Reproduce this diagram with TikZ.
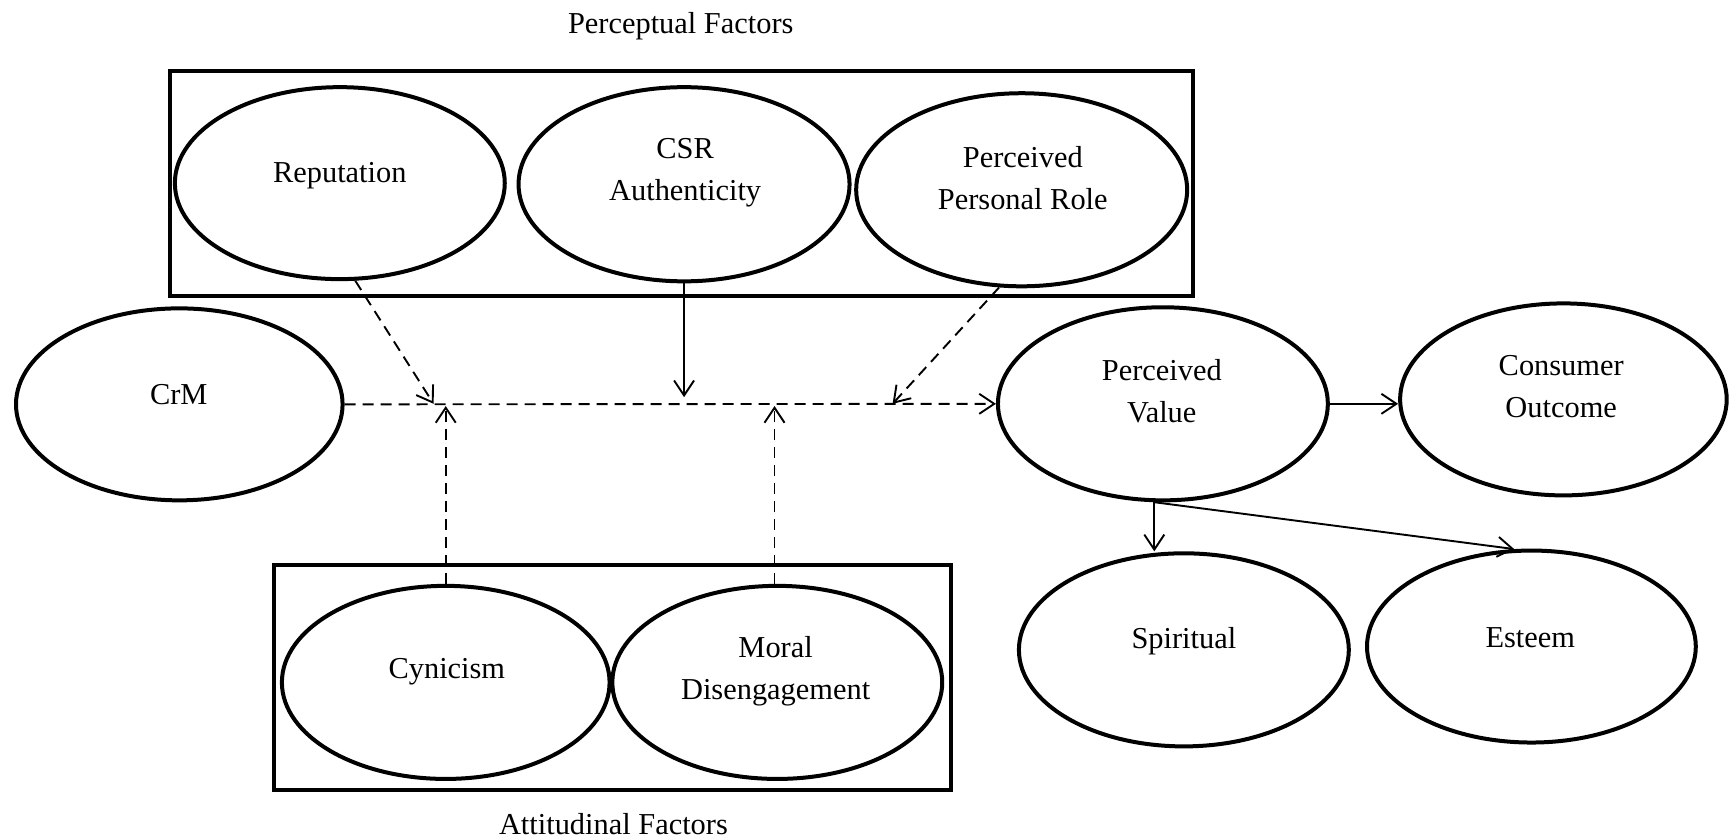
\documentclass[tikz,border=0pt]{standalone}
\usepackage{fontspec}
\setmainfont{Liberation Serif}
\usetikzlibrary{shapes.geometric,arrows.meta}
\begin{document}
\begin{tikzpicture}[x=0.5517pt,y=-0.5517pt,
  oval/.style n args={2}{draw,ellipse,line width=2pt,inner sep=0pt,
    minimum width=#1*0.5517pt,minimum height=#2*0.5517pt},
  txt/.style={font=\fontsize{15.2}{21}\selectfont,align=center,inner sep=0pt},
  frame/.style={draw,line width=1.9pt},
  conn/.style={line width=0.95pt,-{Straight Barb[length=7.5pt,width=10pt]}},
  dsh/.style={conn,dash pattern=on 5.5pt off 3.5pt}]
\useasboundingbox (0,0) rectangle (1568,760);

% frames
\draw[frame] (154,64) rectangle (1081,268);
\draw[frame] (248,512) rectangle (862,716);
\node[txt] (pf) at (617,24) {Perceptual Factors};
\node[txt] (af) at (556,747) {Attitudinal Factors};

% ellipses
\node[oval={299}{174}] (rep) at (308,166) {};
\node[oval={300}{176}] (csr) at (620,167) {};
\node[oval={300}{175}] (ppr) at (926,172) {};
\node[oval={296}{174}] (crm) at (162.5,366.5) {};
\node[oval={299}{175}] (pv) at (1054,366) {};
\node[oval={296}{174}] (co) at (1417,362) {};
\node[oval={299}{175}] (spi) at (1073,589) {};
\node[oval={298}{174}] (est) at (1388,586) {};
\node[oval={297}{175}] (cyn) at (404,618.5) {};
\node[oval={299}{175}] (mor) at (704.5,618.5) {};

% labels
\node[txt] at (308,159) {Reputation};
\node[txt] at (621,156.5) {CSR\\Authenticity};
\node[txt] at (927,161) {Perceived\\Personal Role};
\node[txt] at (162,358) {CrM};
\node[txt] at (1053,355) {Perceived\\Value};
\node[txt] at (1415,350) {Consumer\\Outcome};
\node[txt] at (1073,581) {Spiritual};
\node[txt] at (1387,578) {Esteem};
\node[txt] at (405,609) {Cynicism};
\node[txt] at (703,608) {Moral\\Disengagement};

% junction points on the main path
\coordinate (j1) at (393,366);
\coordinate (j2) at (622,360);
\coordinate (j3) at (809,366);
\coordinate (j4) at (404,368);
\coordinate (j5) at (702,368);

% connectors
\draw[dsh] (crm.east) -- (pv.west);
\draw[dsh] (rep.-81) -- (j1);
\draw[conn] (csr.south) -- (csr.south |- j2);
\draw[dsh] (ppr.-103.3) -- (j3);
\draw[dsh] (cyn.north) -- (cyn.north |- j4);
\draw[dsh] (j5 |- mor.north) -- (j5);
\draw[conn] (pv.east) -- (pv.east -| co.west);
\draw[conn] (pv.-95) -- (pv.-95 |- spi.north);
\draw[conn] (pv.-95) -- (est.100);
\end{tikzpicture}
\end{document}
